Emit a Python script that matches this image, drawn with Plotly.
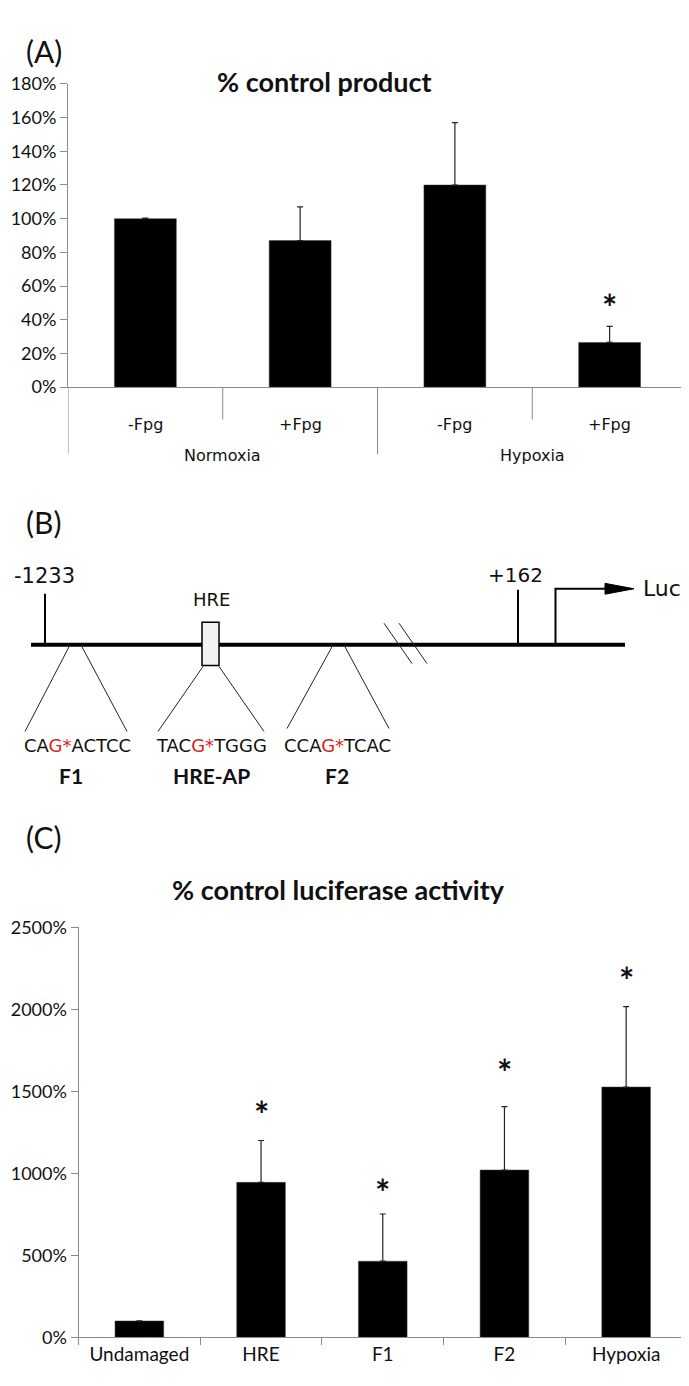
import plotly.graph_objects as go

# (A) % control product
groups_a = ['Normoxia', 'Normoxia', 'Hypoxia', 'Hypoxia']
treat_a = ['-Fpg', '+Fpg', '-Fpg', '+Fpg']
vals_a = [1.00, 0.87, 1.20, 0.265]
err_a = [0.004, 0.20, 0.37, 0.095]
star_a = [None, None, None, 0.515]

# (B) promoter schematic
seq_pre = ['CA', 'TAC', 'CCA']
seq_post = ['ACTCC', 'TGGG', 'TCAC']
sites_b = ['F1', 'HRE-AP', 'F2']

# (C) % control luciferase activity
cats_c = ['Undamaged', 'HRE', 'F1', 'F2', 'Hypoxia']
vals_c = [100, 945, 464, 1020, 1526]
err_c = [0, 255, 288, 386, 490]
star_c = [None, 1406, 930, 1660, 2220]

# Seite hat 8px Body-Rand -> Figur etwas kleiner, Koordinaten versetzt
OFF = 8
W, H = 689 - OFF, 1386 - OFF


def px(x):
    return (x - OFF) / W


def py(y):
    return 1 - (y - OFF) / H


AX = '#8a8a8a'
TXT = '#111111'

fig = go.Figure()

# Balken (A)
fig.add_trace(go.Bar(
    x=list(range(len(vals_a))), y=vals_a,
    marker=dict(color='black', line=dict(color='#444', width=0.5)),
    error_y=dict(type='data', array=err_a, arrayminus=[0] * len(err_a),
                 symmetric=False, color='#222', thickness=1.2, width=3),
    xaxis='x', yaxis='y', showlegend=False, hoverinfo='skip'
))

# Balken (C)
fig.add_trace(go.Bar(
    x=cats_c, y=vals_c,
    marker=dict(color='black', line=dict(color='#444', width=0.5)),
    error_y=dict(type='data', array=err_c, arrayminus=[0] * len(err_c),
                 symmetric=False, color='#222', thickness=1.2, width=3),
    xaxis='x2', yaxis='y2', showlegend=False, hoverinfo='skip'
))

shapes = []
ann = []

# Panel-Buchstaben
for lbl, yy in [('(A)', 19), ('(B)', 518), ('(C)', 838)]:
    ann.append(dict(x=px(24), y=py(yy), xref='paper', yref='paper', text=lbl,
                    showarrow=False, font=dict(family='Lato', size=30, color=TXT)))

# Titel
ann.append(dict(x=px(324), y=py(52), xref='paper', yref='paper', text='<b>% control product</b>',
                showarrow=False, font=dict(family='Lato', size=27, color=TXT)))
ann.append(dict(x=px(338), y=py(892), xref='paper', yref='paper', text='<b>% control luciferase activity</b>',
                showarrow=False, font=dict(family='Lato', size=27, color=TXT)))

# Kategorien (A): innere Labels, Gruppen, Trennlinien
for i, t in enumerate(treat_a):
    ann.append(dict(x=i, y=py(407), xref='x', yref='paper', text=t, showarrow=False,
                    font=dict(family='DejaVu Sans', size=16, color=TXT)))
seen = []
for g in groups_a:
    if g not in seen:
        seen.append(g)
for g in seen:
    idx = [i for i, gg in enumerate(groups_a) if gg == g]
    ann.append(dict(x=sum(idx) / len(idx), y=py(439), xref='x', yref='paper', text=g, showarrow=False,
                    font=dict(family='DejaVu Sans', size=16, color=TXT)))
shapes.append(dict(type='line', xref='x', yref='paper', x0=-0.5, x1=-0.5, y0=py(381), y1=py(449),
                   line=dict(color=AX, width=1)))
for i in range(1, len(groups_a)):
    bottom = 449 if groups_a[i] != groups_a[i - 1] else 414
    shapes.append(dict(type='line', xref='x', yref='paper', x0=i - 0.5, x1=i - 0.5, y0=py(381), y1=py(bottom),
                       line=dict(color=AX, width=1)))

# Sterne
for i, s in enumerate(star_a):
    if s is not None:
        ann.append(dict(x=i, y=s, xref='x', yref='y', text='<b>*</b>', showarrow=False, yshift=-7,
                        font=dict(family='Lato', size=36, color=TXT)))
for c, s in zip(cats_c, star_c):
    if s is not None:
        ann.append(dict(x=c, y=s, xref='x2', yref='y2', text='<b>*</b>', showarrow=False, yshift=-7,
                        font=dict(family='Lato', size=36, color=TXT)))


# Schema (B) in Pixelkoordinaten (x3/y3)
def seg(x0, y0, x1, y1, w=1, col='#222'):
    shapes.append(dict(type='line', xref='x3', yref='y3', x0=x0, y0=y0, x1=x1, y1=y1,
                       line=dict(color=col, width=w)))


seg(31, 643, 625, 643, w=4, col='black')
seg(45, 591, 45, 643, w=2, col='black')
seg(518, 587, 518, 643, w=2, col='black')
shapes.append(dict(type='path', xref='x3', yref='y3', path='M 555.5 643 L 555.5 586 L 608 586',
                   line=dict(color='black', width=2)))
shapes.append(dict(type='path', xref='x3', yref='y3', path='M 605 580.5 L 634 586 L 605 591.5 Z',
                   fillcolor='black', line=dict(color='black', width=1)))
shapes.append(dict(type='rect', xref='x3', yref='y3', x0=202, x1=219, y0=620, y1=664,
                   fillcolor='#f2f2f2', line=dict(color='black', width=1.5)))
# Aufspreizungen
seg(69, 645, 25, 731)
seg(82, 645, 127, 731)
seg(203, 665, 158, 731)
seg(219, 665, 264, 731)
seg(332, 645, 287, 728)
seg(345, 645, 389, 728)
# Unterbrechung
seg(384, 621, 412, 662)
seg(399, 621, 427, 662)

for text, x, y, size in [('-1233', 44, 573, 21), ('HRE', 211, 597, 18), ('+162', 515, 572, 20), ('Luc', 662, 586, 22)]:
    ann.append(dict(x=x, y=y, xref='x3', yref='y3', text=text, showarrow=False,
                    font=dict(family='DejaVu Sans', size=size, color=TXT)))

for pre, post, name, x in zip(seq_pre, seq_post, sites_b, [77, 211, 337]):
    ann.append(dict(x=x, y=745, xref='x3', yref='y3',
                    text=pre + "<span style='color:#d81e1e'>G*</span>" + post,
                    showarrow=False, font=dict(family='DejaVu Sans', size=18, color=TXT)))
    ann.append(dict(x=x - (6 if name == 'F1' else 0), y=776, xref='x3', yref='y3', text='<b>' + name + '</b>',
                    showarrow=False, font=dict(family='Lato', size=21, color=TXT)))

fig.update_layout(
    width=W, height=H,
    margin=dict(l=0, r=0, t=0, b=0),
    paper_bgcolor='white', plot_bgcolor='rgba(0,0,0,0)',
    bargap=0.6,
    xaxis=dict(domain=[px(68), px(687)], range=[-0.5, 3.5], showticklabels=False, ticks='',
               showline=True, linecolor=AX, linewidth=1, showgrid=False, zeroline=False, anchor='y'),
    yaxis=dict(domain=[py(381), py(73)], range=[0, 1.8], dtick=0.2, tickformat='.0%',
               ticks='outside', ticklen=7, tickcolor=AX, showline=True, linecolor=AX, linewidth=1,
               showgrid=False, zeroline=False, anchor='x',
               tickfont=dict(family='Lato', size=18, color=TXT)),
    xaxis2=dict(domain=[px(78.5), px(687)], type='category', tickson='boundaries', ticks='outside',
                ticklen=7, tickcolor=AX, showline=True, linecolor=AX, linewidth=1, showgrid=False,
                zeroline=False, anchor='y2', tickfont=dict(family='Lato', size=19, color=TXT)),
    yaxis2=dict(domain=[py(1346.7), py(930)], range=[0, 2500], dtick=500, ticksuffix='%',
                ticks='outside', ticklen=7, tickcolor=AX, showline=True, linecolor=AX, linewidth=1,
                showgrid=False, zeroline=False, anchor='x2',
                tickfont=dict(family='Lato', size=18, color=TXT)),
    xaxis3=dict(domain=[0, 1], range=[OFF, OFF + W], visible=False, anchor='y3', fixedrange=True),
    yaxis3=dict(domain=[0, 1], range=[OFF + H, OFF], visible=False, anchor='x3', fixedrange=True),
    shapes=shapes,
    annotations=ann,
)

fig.write_html("out.html")
